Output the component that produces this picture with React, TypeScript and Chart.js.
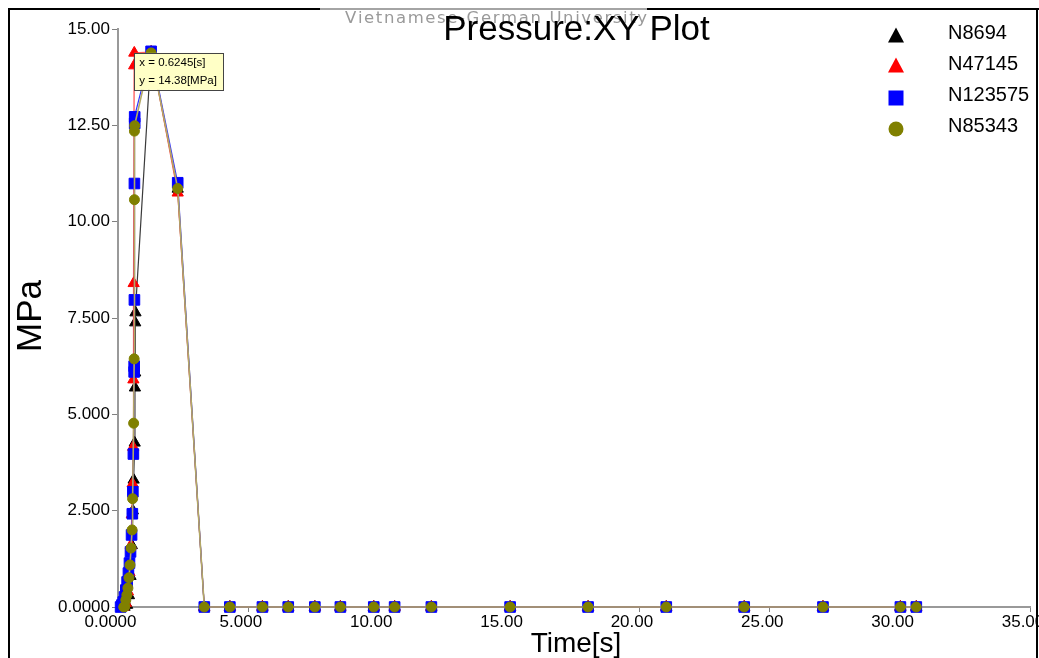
import React, { useEffect, useRef } from 'react';
import { Chart, registerables } from 'chart.js';

Chart.register(...registerables);

// ---- data ----
const tailTimes = [3.31, 4.29, 5.54, 6.53, 7.55, 8.53, 9.81, 10.61, 12.02, 15.04, 18.03, 21.03, 24.02, 27.04, 30.01, 30.62];
const tailValues = [0, 0, 0, 0, 0, 0, 0, 0, 0, 0, 0, 0, 0, 0, 0, 0];

const n8694Times = [0.25, 0.35, 0.42, 0.48, 0.53, 0.57, 0.6, 0.64, 0.65, 0.66, 0.66, 0.67, 1.27, 2.29];
const n8694Values = [0, 0.05, 0.3, 0.8, 1.6, 2.5, 3.3, 4.26, 5.69, 6.08, 7.38, 7.64, 14.4, 10.85];

const n47145Times = [0.2, 0.3, 0.38, 0.44, 0.49, 0.53, 0.56, 0.58, 0.59, 0.6, 0.62, 0.6245, 1.27, 2.29];
const n47145Values = [0, 0.1, 0.4, 0.9, 1.6, 2.4, 3.2, 4.15, 5.9, 8.4, 14.05, 14.38, 14.4, 10.75];

const n123575Times = [0.1, 0.15, 0.2, 0.25, 0.3, 0.35, 0.4, 0.44, 0.48, 0.52, 0.55, 0.57, 0.59, 0.62, 0.62, 0.63, 0.63, 0.64, 0.64, 1.27, 2.29];
const n123575Values = [0, 0.05, 0.13, 0.26, 0.44, 0.65, 0.88, 1.14, 1.43, 1.87, 2.42, 2.99, 3.97, 6.1, 6.25, 7.97, 10.99, 12.55, 12.72, 14.42, 11.01];

const n85343Times = [0.22, 0.26, 0.3, 0.34, 0.38, 0.42, 0.46, 0.5, 0.54, 0.56, 0.6, 0.62, 0.63, 0.63, 0.64, 1.27, 2.29];
const n85343Values = [0, 0.01, 0.18, 0.31, 0.49, 0.76, 1.09, 1.53, 2.0, 2.81, 4.77, 6.44, 10.57, 12.35, 12.49, 14.38, 10.86];

const seriesNames = ['N8694', 'N47145', 'N123575', 'N85343'];
const pointColors = ['#000000', '#ff0000', '#0000ff', '#808000'];
const lineColors = ['#3a3a3a', '#ff4a4a', '#3333ff', '#b3a866'];

const tooltipPoint = [0.6245, 14.38];
const tooltipLines = ['x = 0.6245[s]', 'y = 14.38[MPa]'];

const FONT = '"Liberation Sans", Arial, sans-serif';

function build(times: number[], values: number[]) {
  const xs = times.concat(tailTimes);
  const ys = values.concat(tailValues);
  return xs.map((x, i) => ({ x, y: ys[i] }));
}

function fmt(v: number) {
  if (v === 0) return '0.0000';
  return Number(v).toPrecision(4);
}

const overlayPlugin = {
  id: 'overlay',
  afterDraw(chart: any) {
    const ctx = chart.ctx as CanvasRenderingContext2D;
    const H = chart.height;
    ctx.save();

    // frame
    ctx.fillStyle = '#000';
    ctx.fillRect(0, 0, 2, H);
    ctx.fillRect(0, 0, chart.width, 2);
    ctx.fillRect(1028, 0, 2, H);
    ctx.fillStyle = '#a4a4a4';
    ctx.fillRect(312, 0, 327, 2);

    // watermark
    const wm = 'Vietnamese-German University';
    ctx.font = '16.5px "DejaVu Sans", sans-serif';
    ctx.fillStyle = '#9a9a9a';
    ctx.textAlign = 'left';
    ctx.textBaseline = 'alphabetic';
    const w0 = ctx.measureText(wm).width;
    const sp = (302 - w0) / (wm.length - 1);
    let cx = 337;
    for (const ch of wm) {
      ctx.fillText(ch, cx, 15);
      cx += ctx.measureText(ch).width + sp;
    }

    // title
    ctx.fillStyle = '#000';
    ctx.font = '35px ' + FONT;
    ctx.textAlign = 'center';
    ctx.fillText('Pressure:XY Plot', 568.5, 32);

    // axis titles
    ctx.font = '28px ' + FONT;
    ctx.fillText('Time[s]', 568, 644);
    ctx.save();
    ctx.translate(33, 308);
    ctx.rotate(-Math.PI / 2);
    ctx.font = '35px ' + FONT;
    ctx.fillText('MPa', 0, 0);
    ctx.restore();

    // legend
    const mx = 888;
    const my = [27.5, 57.5, 90, 121];
    const ty = [25.5, 56.5, 87, 118];
    for (let i = 0; i < 4; i++) {
      ctx.fillStyle = pointColors[i];
      const y = my[i];
      ctx.beginPath();
      if (i < 2) {
        ctx.moveTo(mx, y - 8);
        ctx.lineTo(mx + 8, y + 7);
        ctx.lineTo(mx - 8, y + 7);
        ctx.closePath();
        ctx.fill();
      } else if (i === 2) {
        ctx.fillRect(mx - 7.5, y - 7.5, 15, 15);
      } else {
        ctx.arc(mx, y, 7.5, 0, Math.PI * 2);
        ctx.fill();
      }
      ctx.fillStyle = '#000';
      ctx.font = '20px ' + FONT;
      ctx.textAlign = 'left';
      ctx.textBaseline = 'middle';
      ctx.fillText(seriesNames[i], 940, ty[i]);
    }

    // tooltip box
    const px = chart.scales.x.getPixelForValue(tooltipPoint[0]);
    const py = chart.scales.y.getPixelForValue(tooltipPoint[1]);
    ctx.fillStyle = '#ffffc6';
    ctx.fillRect(px, py, 89, 37);
    ctx.strokeStyle = '#444';
    ctx.lineWidth = 1;
    ctx.strokeRect(Math.round(px) + 0.5, Math.round(py) + 0.5, 89, 37);
    ctx.fillStyle = '#000';
    ctx.font = '11.5px ' + FONT;
    ctx.textAlign = 'left';
    ctx.textBaseline = 'middle';
    ctx.fillText(tooltipLines[0], px + 5, py + 9.5);
    ctx.fillText(tooltipLines[1], px + 5, py + 27.5);

    ctx.restore();
  },
};

export default function App() {
  const ref = useRef<HTMLCanvasElement | null>(null);

  useEffect(() => {
    if (!ref.current) return;
    const allSeries = [
      { name: seriesNames[3], data: build(n85343Times, n85343Values), style: 'circle', r: 5, c: 3, w: 1.6 },
      { name: seriesNames[2], data: build(n123575Times, n123575Values), style: 'rect', r: 7.5, c: 2, w: 1.2 },
      { name: seriesNames[1], data: build(n47145Times, n47145Values), style: 'triangle', r: 6.5, c: 1, w: 1.2 },
      { name: seriesNames[0], data: build(n8694Times, n8694Values), style: 'triangle', r: 6.5, c: 0, w: 1.2 },
    ];
    const chart = new Chart(ref.current, {
      type: 'line',
      data: {
        datasets: allSeries.map((s) => ({
          label: s.name,
          data: s.data,
          borderColor: lineColors[s.c],
          borderWidth: s.w,
          backgroundColor: pointColors[s.c],
          pointBackgroundColor: pointColors[s.c],
          pointBorderColor: pointColors[s.c],
          pointBorderWidth: 1,
          pointStyle: s.style as any,
          pointRadius: s.r,
          tension: 0,
          fill: false,
          clip: false as any,
        })),
      },
      options: {
        responsive: false,
        animation: false,
        devicePixelRatio: 1,
        layout: { padding: { top: 21, right: 5, left: 0, bottom: 0 } },
        plugins: {
          legend: { display: false },
          tooltip: { enabled: false },
          title: { display: false },
        },
        scales: {
          x: {
            type: 'linear',
            min: 0,
            max: 35,
            ticks: {
              stepSize: 5,
              autoSkip: false,
              maxRotation: 0,
              padding: 0,
              labelOffset: -7.5,
              color: '#000',
              font: { family: FONT, size: 17 },
              callback: (v: any) => fmt(Number(v)),
            },
            grid: { display: true, drawOnChartArea: false, drawTicks: true, tickLength: 5, color: '#808080' },
            border: { display: true, color: '#999999', width: 2 },
            afterFit: (scale: any) => {
              scale.height = 51;
              scale.paddingLeft = 0;
              scale.paddingRight = 0;
            },
          },
          y: {
            type: 'linear',
            min: 0,
            max: 15,
            ticks: {
              stepSize: 2.5,
              padding: 2,
              color: '#000',
              font: { family: FONT, size: 17 },
              callback: (v: any) => fmt(Number(v)),
            },
            grid: { display: true, drawOnChartArea: false, drawTicks: true, tickLength: 6, color: '#808080' },
            border: { display: true, color: '#999999', width: 2 },
            afterFit: (scale: any) => {
              scale.width = 110;
              scale.paddingTop = 0;
              scale.paddingBottom = 0;
            },
          },
        },
      } as any,
      plugins: [overlayPlugin],
    });
    return () => chart.destroy();
  }, []);

  return (
    <div style={{ position: 'fixed', left: 8, top: 8, width: 1031, height: 650, background: '#fff' }}>
      <canvas ref={ref} width={1031} height={650} style={{ display: 'block', width: 1031, height: 650 }} />
    </div>
  );
}
